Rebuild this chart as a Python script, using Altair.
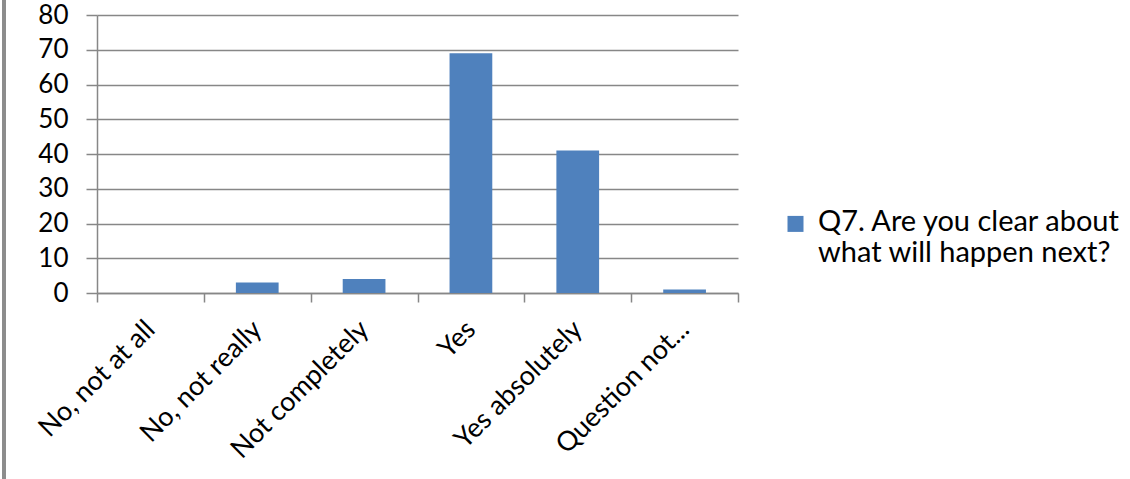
import altair as alt
import pandas as pd

# Survey responses for Q7
categories = ["No, not at all", "No, not really", "Not completely", "Yes", "Yes absolutely", "Question not..."]
counts = [0, 3, 4, 69, 41, 1]
series_name = "Q7. Are you clear about what will happen next?"
legend_lines = ["Q7. Are you clear about", "what will happen next?"]

df = pd.DataFrame({"answer": categories, "count": counts, "series": [series_name] * len(categories)})

FONT = "Lato"
GRID = "#878787"
BAR = "#4F81BD"

label_expr = "[" + ", ".join("'" + s + "'" for s in legend_lines) + "]"

bars = alt.Chart(df).mark_bar(color=BAR, width=alt.RelativeBandSize(0.4)).encode(
    x=alt.X(
        "answer:N",
        sort=categories,
        scale=alt.Scale(paddingInner=0, paddingOuter=0),
        axis=alt.Axis(
            title=None,
            labelAngle=-45,
            labelAlign="right",
            labelBaseline="middle",
            labelFont=FONT,
            labelFontSize=27,
            labelColor="black",
            labelPadding=23,
            labelLimit=400,
            domainColor=GRID,
            domainWidth=1.5,
            tickColor=GRID,
            tickWidth=1.5,
            tickSize=9,
            tickBand="extent",
            grid=False,
        ),
    ),
    y=alt.Y(
        "count:Q",
        scale=alt.Scale(domain=[0, 80]),
        axis=alt.Axis(
            title=None,
            values=list(range(0, 81, 10)),
            labelFont=FONT,
            labelFontSize=26,
            labelColor="black",
            labelPadding=18,
            domainColor=GRID,
            domainWidth=1.5,
            tickColor=GRID,
            tickWidth=1.5,
            tickSize=11,
            gridColor=GRID,
            gridWidth=1.5,
        ),
    ),
    color=alt.Color(
        "series:N",
        scale=alt.Scale(range=[BAR]),
        legend=alt.Legend(
            title=None,
            orient="none",
            legendX=684,
            legendY=192,
            # square marker raised to sit beside the first line of the label
            symbolType="M-1,-0.7H1V1.3H-1Z",
            symbolSize=256,
            symbolStrokeWidth=0,
            labelFont=FONT,
            labelFontSize=29,
            labelColor="black",
            labelLimit=400,
            labelExpr=label_expr,
            labelBaseline="middle",
            labelOffset=8,
        ),
    ),
)

# Thin frame line along the left edge of the figure
edge = alt.Chart(df).mark_rule(color="#8c8c8c", strokeWidth=3).encode(
    x=alt.value(-93), y=alt.value(-15), y2=alt.value(464)
)

chart = (
    alt.layer(edge, bars)
    .properties(width=641, height=278, padding={"left": 97, "top": 15, "right": 392, "bottom": 186})
    .configure(autosize=alt.AutoSizeParams(type="none"), background="white")
    .configure_view(stroke=None)
)

chart.save("out.html", embed_options={"renderer": "svg", "actions": False})
